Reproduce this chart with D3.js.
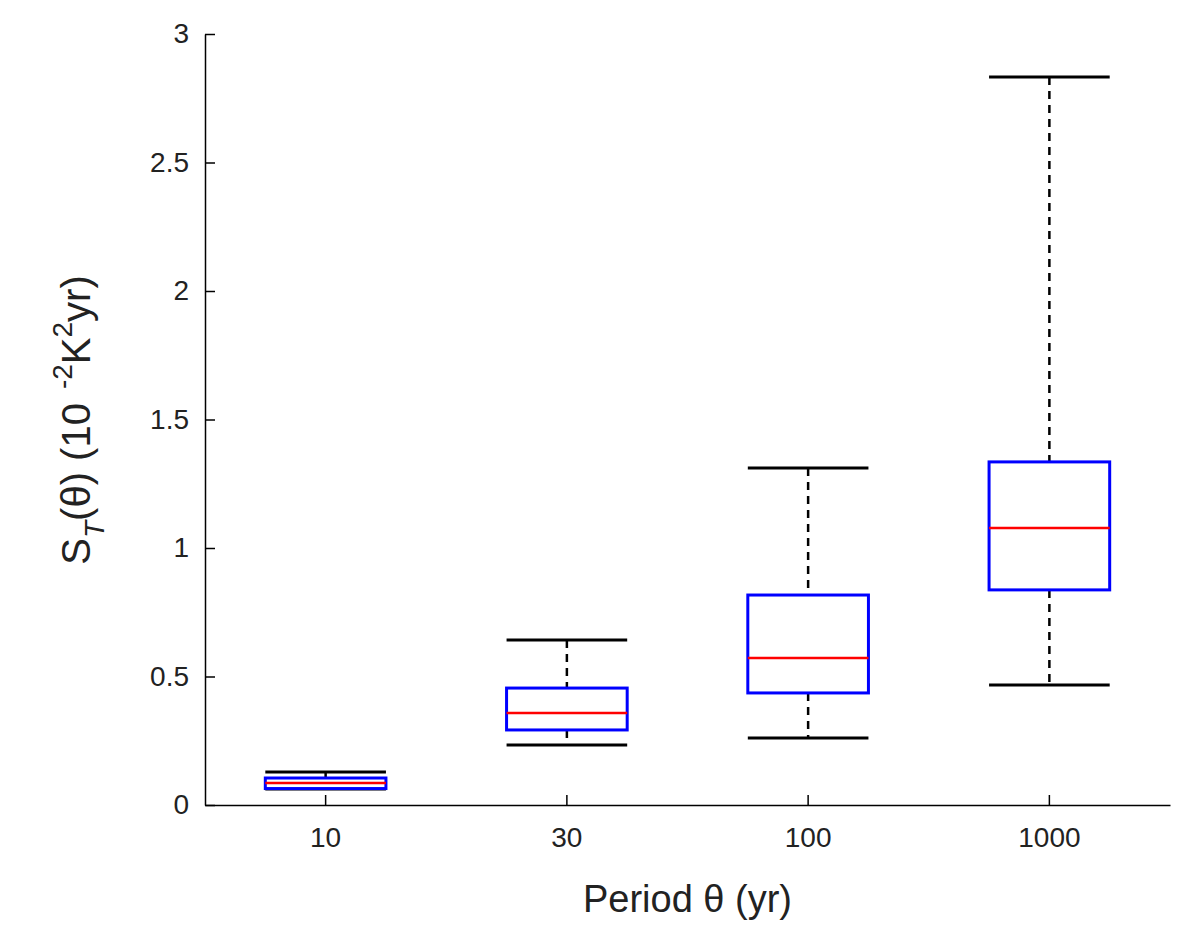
<!DOCTYPE html>
<html><head><meta charset="utf-8">
<script src="https://cdn.jsdelivr.net/npm/d3@7"></script>
<style>body{margin:0;background:#fff}text{font-family:"Liberation Sans",Arial,sans-serif}</style>
</head><body><svg id="c"></svg>
<script>
const periods = ["10", "30", "100", "1000"];
const whiskerHigh = [0.128, 0.642, 1.311, 2.833];
const q3 = [0.105, 0.455, 0.817, 1.335];
const median = [0.086, 0.358, 0.572, 1.078];
const q1 = [0.064, 0.292, 0.436, 0.837];
const whiskerLow = [0.062, 0.233, 0.261, 0.467];
const yTicks = [0, 0.5, 1, 1.5, 2, 2.5, 3];

const width = 1200, height = 945;
const m = {left: 205, right: 30, top: 34, bottom: 140};
const svg = d3.select("#c").attr("width", width).attr("height", height);

const x = d3.scaleBand().domain(periods).range([m.left, width - m.right]).paddingInner(0.5).paddingOuter(0.25);
const y = d3.scaleLinear().domain([0, 3]).range([height - m.bottom, m.top]);

const data = periods.map((p, i) => ({p, hi: whiskerHigh[i], q3: q3[i], med: median[i], q1: q1[i], lo: whiskerLow[i]}));

const xAxis = svg.append("g").attr("transform", `translate(0,${y(0)})`)
    .call(d3.axisBottom(x).tickSizeInner(-10).tickSizeOuter(0).tickPadding(22));
const yAxis = svg.append("g").attr("transform", `translate(${m.left},0)`)
    .call(d3.axisLeft(y).tickValues(yTicks).tickFormat(d3.format("")).tickSizeInner(-10).tickSizeOuter(0).tickPadding(16));
[xAxis, yAxis].forEach(a => {
  a.attr("font-size", 28);
  a.selectAll("path,line").attr("stroke", "#000").attr("stroke-width", 1.5);
  a.selectAll("text").style("font-size", "28px").attr("fill", "#222");
});

const g = svg.selectAll("g.box").data(data).join("g").attr("class", "box");
const bw = x.bandwidth();
const cx = d => x(d.p) + bw / 2;

g.append("line").attr("x1", cx).attr("x2", cx).attr("y1", d => y(d.hi)).attr("y2", d => y(d.q3))
  .attr("stroke", "#000").attr("stroke-width", 2.5).attr("stroke-dasharray", "8,6");
g.append("line").attr("x1", cx).attr("x2", cx).attr("y1", d => y(d.q1)).attr("y2", d => y(d.lo))
  .attr("stroke", "#000").attr("stroke-width", 2.5).attr("stroke-dasharray", "8,6");
g.append("line").attr("x1", d => x(d.p)).attr("x2", d => x(d.p) + bw).attr("y1", d => y(d.hi)).attr("y2", d => y(d.hi))
  .attr("stroke", "#000").attr("stroke-width", 3);
g.append("line").attr("x1", d => x(d.p)).attr("x2", d => x(d.p) + bw).attr("y1", d => y(d.lo)).attr("y2", d => y(d.lo))
  .attr("stroke", "#000").attr("stroke-width", 3);
g.append("rect").attr("x", d => x(d.p)).attr("width", bw).attr("y", d => y(d.q3)).attr("height", d => y(d.q1) - y(d.q3))
  .attr("fill", "#fff").attr("stroke", "#0000ff").attr("stroke-width", 3);
g.append("line").attr("x1", d => x(d.p)).attr("x2", d => x(d.p) + bw).attr("y1", d => y(d.med)).attr("y2", d => y(d.med))
  .attr("stroke", "#ff0000").attr("stroke-width", 2.5);

svg.append("text").attr("x", (m.left + width - m.right) / 2).attr("y", 912).attr("text-anchor", "middle")
  .attr("font-size", 38).attr("fill", "#222").text("Period  θ (yr)");

const yl = svg.append("text").attr("transform", "translate(90,420) rotate(-90)").attr("text-anchor", "middle")
  .attr("font-size", 40).attr("fill", "#222");
yl.append("tspan").text("S");
yl.append("tspan").attr("font-size", 28).attr("font-style", "italic").attr("dy", 14).text("T");
yl.append("tspan").attr("dy", -14).text("(θ) (10");
yl.append("tspan").attr("font-size", 28).attr("dy", -18).attr("dx", 14).text("-2");
yl.append("tspan").attr("dy", 18).text("K");
yl.append("tspan").attr("font-size", 28).attr("dy", -18).text("2");
yl.append("tspan").attr("dy", 18).text("yr)");
</script></body></html>
